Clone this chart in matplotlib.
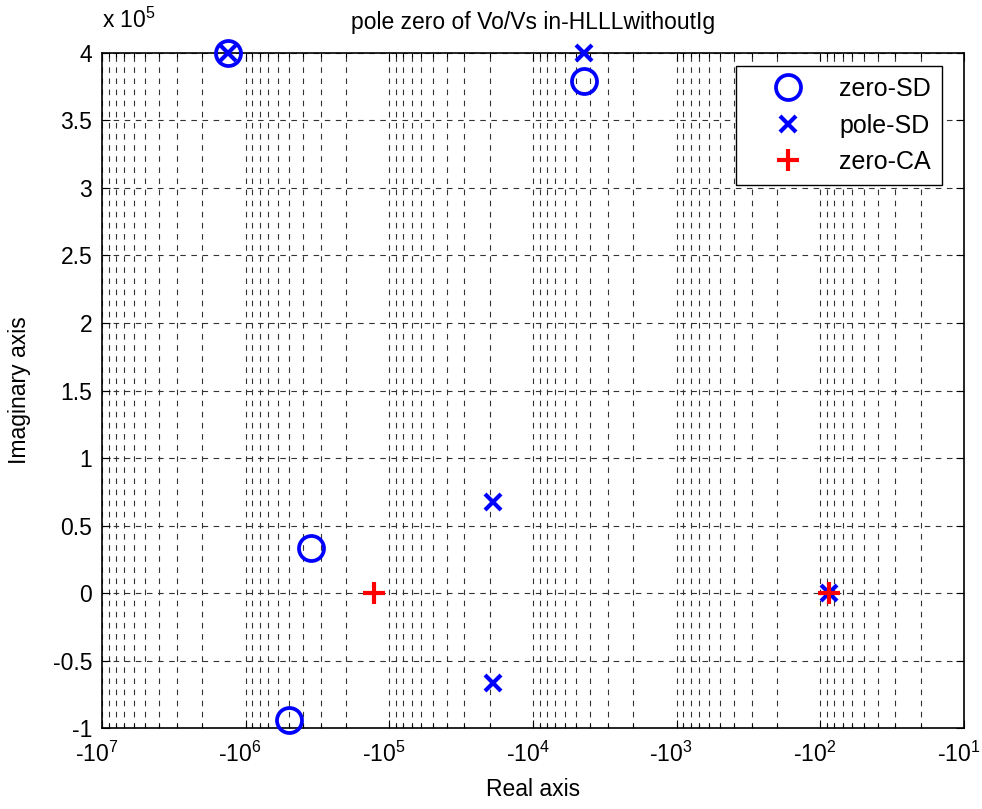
import numpy as np
import matplotlib
matplotlib.use('Agg')
import matplotlib.pyplot as plt
import matplotlib.transforms as mtransforms
from matplotlib.ticker import FixedLocator, LogLocator, NullFormatter

plt.rcParams['font.family'] = ['Liberation Sans', 'DejaVu Sans']
plt.rcParams['mathtext.fontset'] = 'custom'
plt.rcParams['mathtext.rm'] = 'Liberation Sans'
plt.rcParams['mathtext.it'] = 'Liberation Sans'

# pole / zero locations (real, imag)
zero_sd_re = [-1.33e6, -4.4e3, -3.52e5, -5.0e5]
zero_sd_im = [4.0e5, 3.79e5, 0.333e5, -0.94e5]
pole_sd_re = [-1.33e6, -4.4e3, -1.9e4, -1.9e4, -87.3]
pole_sd_im = [4.0e5, 4.0e5, 0.674e5, -0.667e5, 0.0]
zero_ca_re = [-1.28e5, -87.3]
zero_ca_im = [0.0, 0.0]

x_exps = [7, 6, 5, 4, 3, 2, 1]
y_ticks = [-1, -0.5, 0, 0.5, 1, 1.5, 2, 2.5, 3, 3.5, 4]

fig = plt.figure(figsize=(9.82, 8.09), dpi=100)
ax = fig.add_axes([0.1039, 0.1001, 0.8778, 0.8344])

scale = 1e5
ax.plot(-np.array(zero_sd_re), np.array(zero_sd_im) / scale, 'o', mfc='none',
        mec='blue', ms=18, mew=2.7, label='zero-SD', clip_on=False, zorder=5)
ax.plot(-np.array(pole_sd_re), np.array(pole_sd_im) / scale, 'x', color='blue',
        ms=11, mew=3, label='pole-SD', clip_on=False, zorder=5)
ax.plot(-np.array(zero_ca_re), np.array(zero_ca_im) / scale, '+', color='red',
        ms=16, mew=3, label='zero-CA', clip_on=False, zorder=6)

ax.set_xscale('log')
ax.set_xlim(1e7, 1e1)
ax.set_ylim(-1, 4)

ax.xaxis.set_major_locator(FixedLocator([10.0 ** e for e in x_exps]))
ax.set_xticklabels(['-' + r'$\mathregular{10^{%d}}$' % e for e in x_exps])
ax.xaxis.set_minor_locator(LogLocator(base=10, subs=np.arange(2, 10)))
ax.xaxis.set_minor_formatter(NullFormatter())
ax.set_yticks(y_ticks)
ax.set_yticklabels(['%g' % v for v in y_ticks])

ax.tick_params(which='both', direction='in', top=True, right=True, labelsize=16.5)
ax.tick_params(which='major', length=6, width=0.8)
ax.tick_params(which='minor', length=3, width=0.8)
ax.tick_params(axis='x', pad=10)
ax.tick_params(axis='y', pad=7)

# shift x tick labels a little to the left, like the original
shift = mtransforms.ScaledTranslation(-4 / 72, 0, fig.dpi_scale_trans)
for lab in ax.get_xticklabels():
    lab.set_transform(lab.get_transform() + shift)

dash = (0, (5, 5))
ax.grid(True, which='major', color='#333333', linestyle=dash, linewidth=0.8)
ax.grid(True, which='minor', axis='x', color='#333333', linestyle=dash, linewidth=0.8)
for s in ax.spines.values():
    s.set_linewidth(1.2)

ax.set_xlabel('Real axis', fontsize=16.5, labelpad=8)
ax.set_ylabel('Imaginary axis', fontsize=16.5, labelpad=16)
ax.set_title('pole zero of Vo/Vs in-HLLLwithoutIg', fontsize=16.5, pad=17)
ax.text(0.0, 1.03, r'x $\mathregular{10^{5}}$', transform=ax.transAxes,
        fontsize=16.5, ha='left', va='bottom')

leg = ax.legend(loc='upper right', bbox_to_anchor=(0.9745, 0.981), fontsize=18,
                fancybox=False, framealpha=1, edgecolor='black',
                markerfirst=True, handlelength=3.26, handletextpad=0.42,
                borderpad=0.45, labelspacing=0.5, borderaxespad=0)
leg.get_frame().set_linewidth(1.0)
leg.set_zorder(10)

fig.savefig('out.png', dpi=100)
